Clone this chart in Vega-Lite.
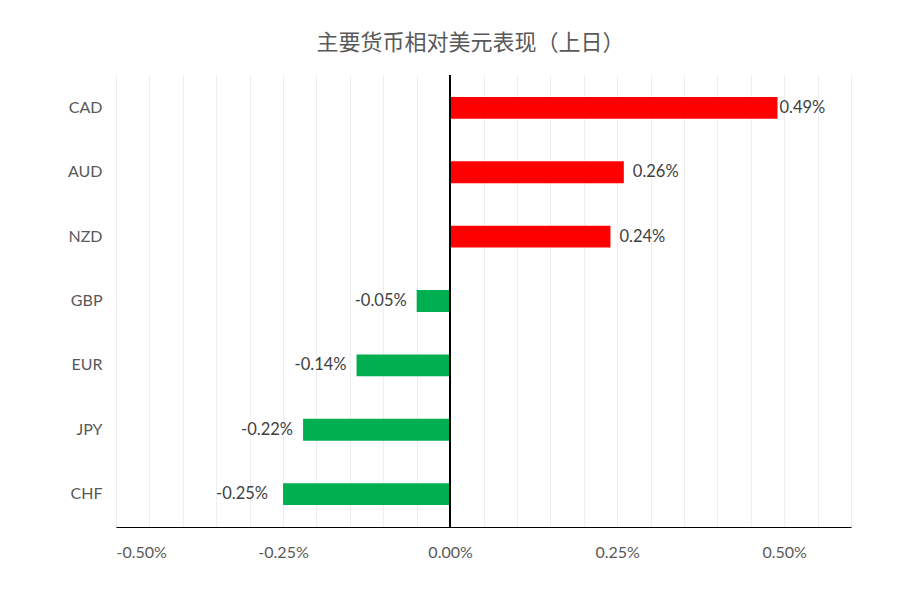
{
  "$schema": "https://vega.github.io/schema/vega-lite/v6.json",
  "autosize": "none",
  "width": 735,
  "height": 452,
  "padding": {"left": 116, "top": 75, "right": 59, "bottom": 64},
  "background": "white",
  "title": {
    "text": "主要货币相对美元表现（上日）",
    "font": "Noto Sans CJK SC",
    "fontSize": 22,
    "fontWeight": "normal",
    "color": "#595959",
    "anchor": "middle",
    "dx": -13,
    "offset": 20
  },
  "data": {
    "values": [
      {"currency": "CAD", "value": 0.0049},
      {"currency": "AUD", "value": 0.0026},
      {"currency": "NZD", "value": 0.0024},
      {"currency": "GBP", "value": -0.0005},
      {"currency": "EUR", "value": -0.0014},
      {"currency": "JPY", "value": -0.0022},
      {"currency": "CHF", "value": -0.0025}
    ]
  },
  "encoding": {
    "x": {
      "field": "value",
      "type": "quantitative",
      "title": null,
      "scale": {"domain": [-0.005, 0.006], "nice": false, "zero": false},
      "axis": {
        "values": [-0.005, -0.0045, -0.004, -0.0035, -0.003, -0.0025, -0.002, -0.0015, -0.001, -0.0005, 0, 0.0005, 0.001, 0.0015, 0.002, 0.0025, 0.003, 0.0035, 0.004, 0.0045, 0.005, 0.0055, 0.006],
        "labelExpr": "round(datum.value * 10000) % 25 == 0 && round(datum.value * 10000) <= 50 ? replace(format(datum.value, '.2%'), '\u2212', '-') : ''",
        "labelOverlap": false,
        "labelFont": "Lato",
        "labelFontSize": 16,
        "labelColor": "#595959",
        "labelPadding": 17,
        "ticks": false,
        "domainColor": "#000000",
        "domainWidth": 1.2,
        "grid": true,
        "gridColor": "#eeeeee",
        "gridWidth": 1
      }
    },
    "y": {
      "field": "currency",
      "type": "nominal",
      "sort": null,
      "title": null,
      "scale": {"paddingInner": 0.66, "paddingOuter": 0.34},
      "axis": {
        "domain": false,
        "ticks": false,
        "labelPadding": 14,
        "labelFont": "Lato",
        "labelFontSize": 16,
        "labelColor": "#595959"
      }
    }
  },
  "layer": [
    {
      "mark": {"type": "bar"},
      "encoding": {
        "color": {
          "condition": {"test": "datum.value > 0", "value": "#FF0000"},
          "value": "#00B050"
        }
      }
    },
    {
      "transform": [{"filter": "datum.value > 0"}],
      "mark": {
        "type": "text",
        "align": "left",
        "dx": {"expr": "datum.value > 0.004 ? 2 : 9"},
        "font": "Lato",
        "fontSize": 16.5,
        "color": "#404040",
        "text": {"expr": "format(datum.value, '.2%')"}
      }
    },
    {
      "transform": [{"filter": "datum.value < 0"}],
      "mark": {
        "type": "text",
        "align": "right",
        "dx": {"expr": "datum.value < -0.0024 ? -15 : -10"},
        "font": "Lato",
        "fontSize": 16.5,
        "color": "#404040",
        "text": {"expr": "replace(format(datum.value, '.2%'), '\u2212', '-')"}
      }
    },
    {
      "mark": {"type": "rule", "color": "#000000", "strokeWidth": 1},
      "encoding": {
        "x": {"datum": 0},
        "y": null
      }
    }
  ],
  "config": {
    "view": {"stroke": null}
  }
}
